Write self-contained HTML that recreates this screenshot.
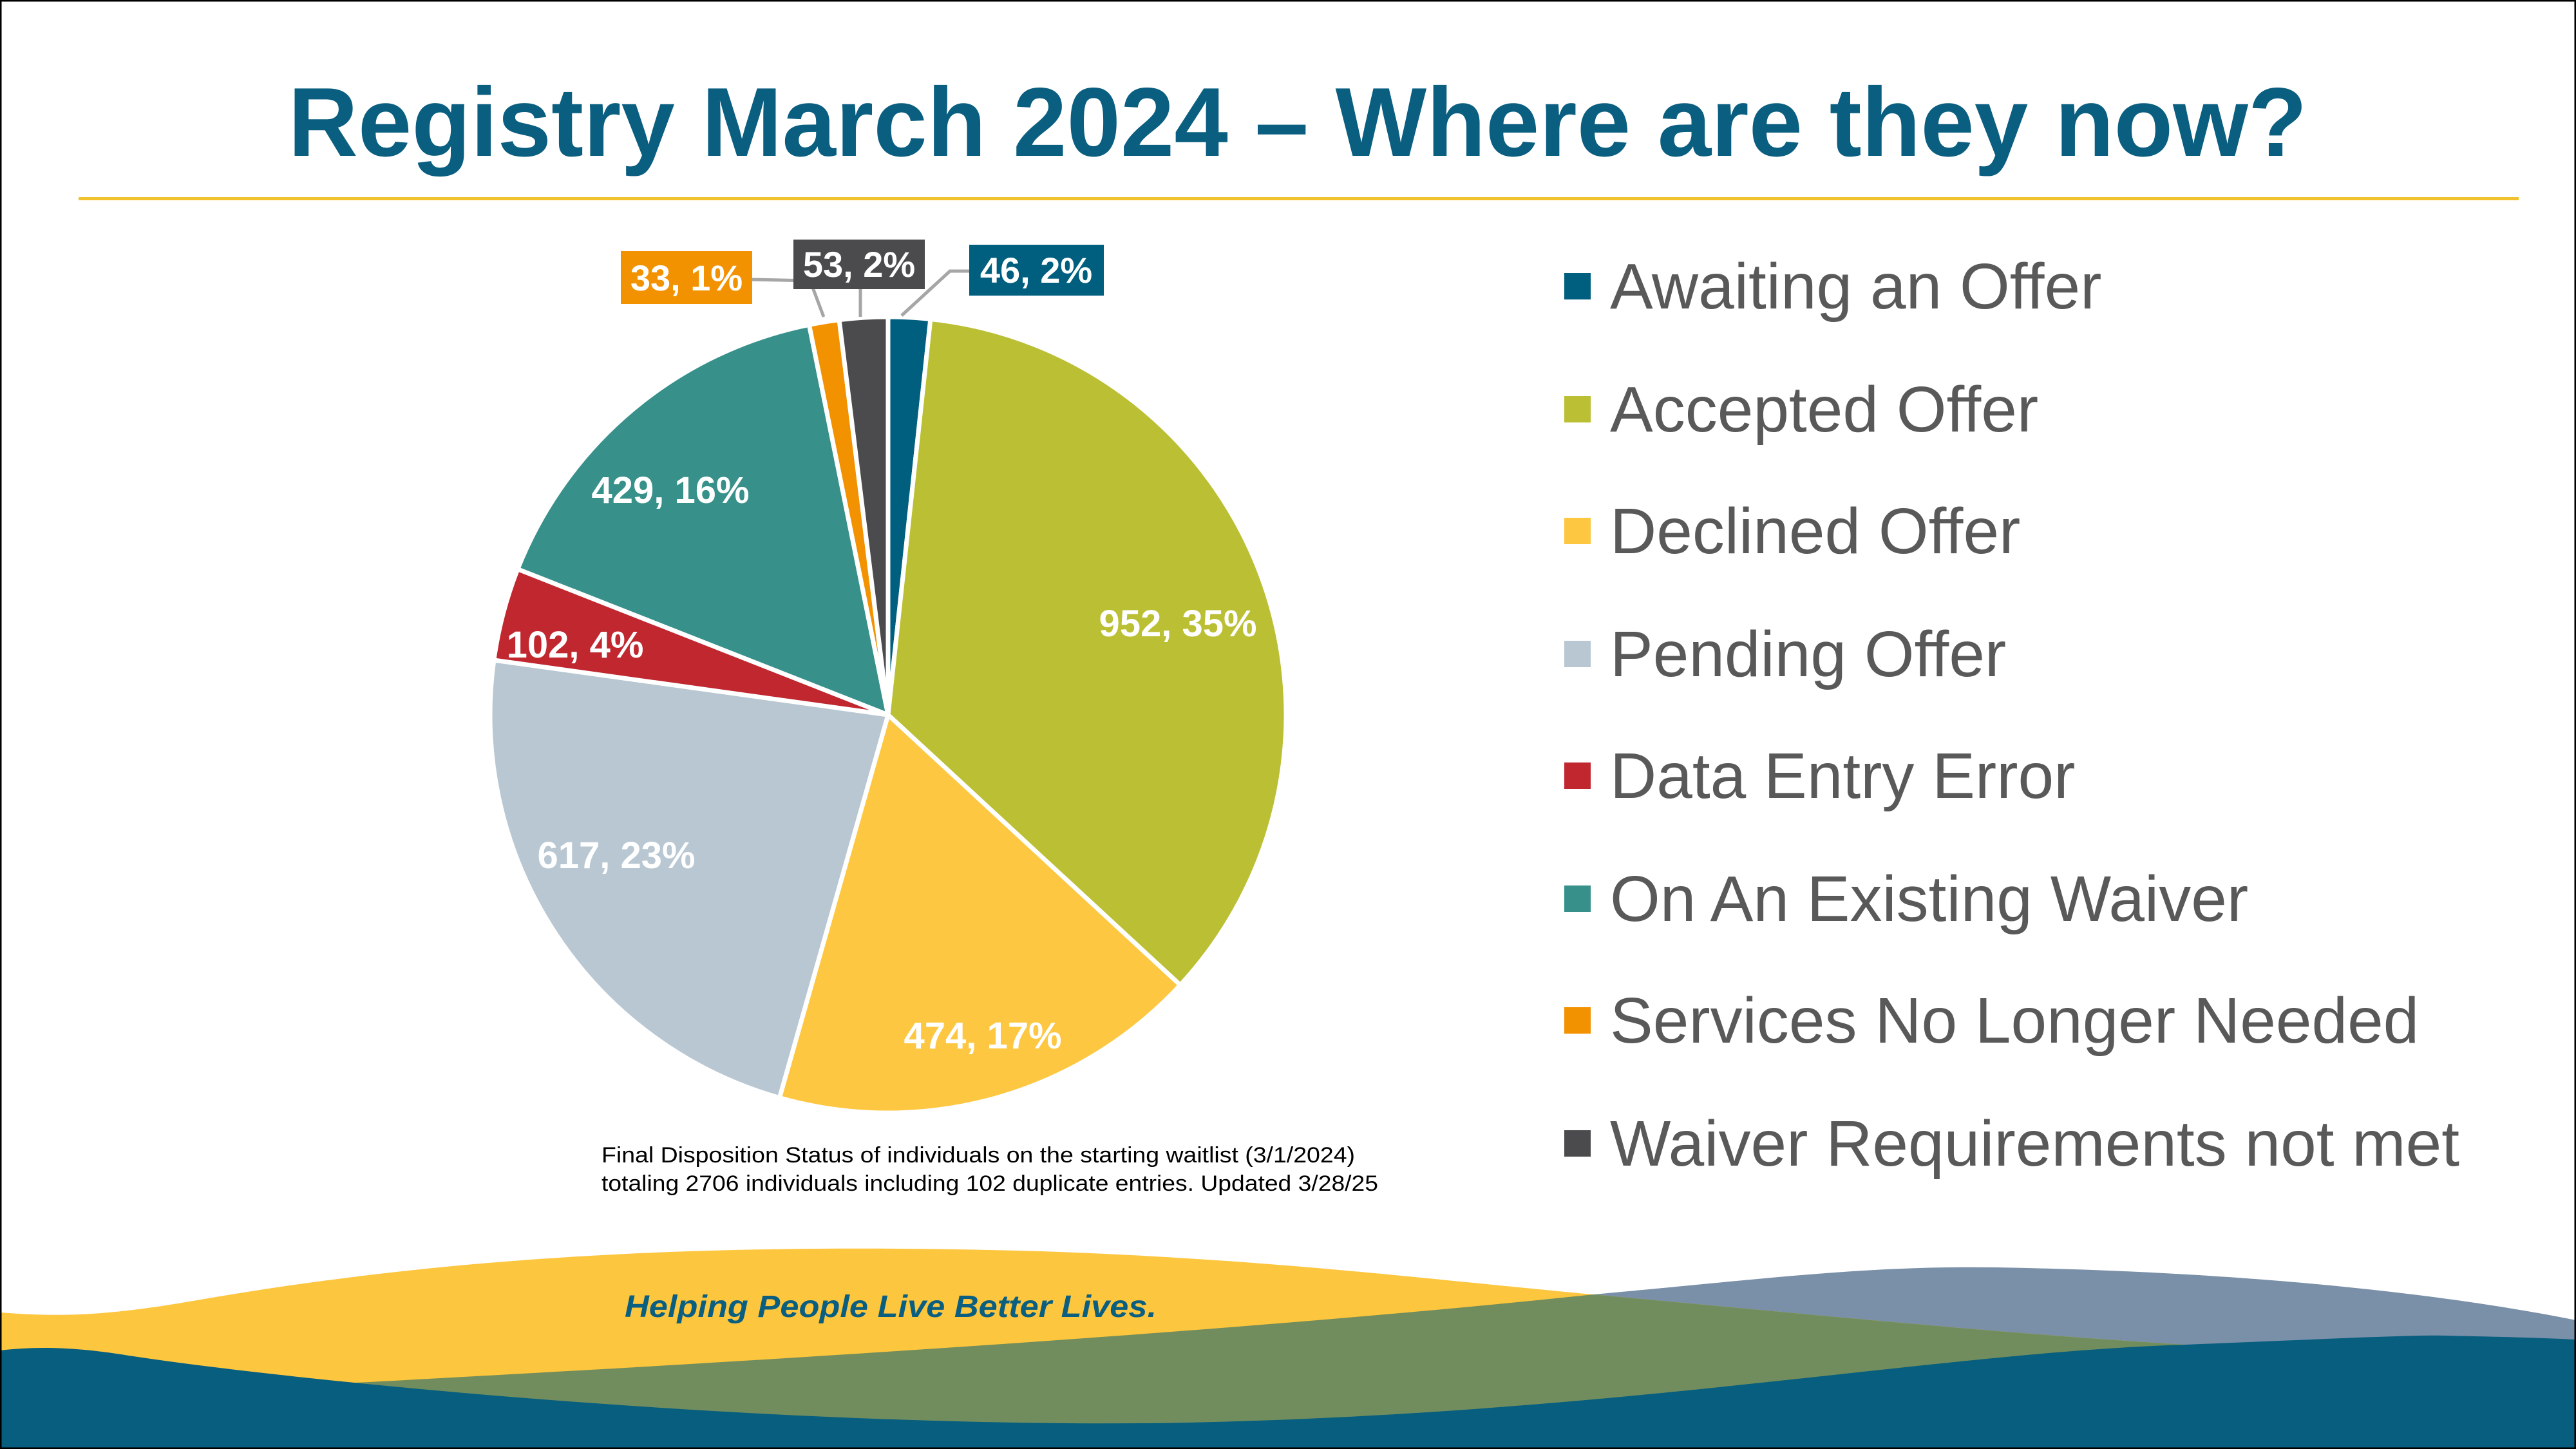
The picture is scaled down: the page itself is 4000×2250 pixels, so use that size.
<!DOCTYPE html>
<html><head><meta charset="utf-8"><style>
html,body{margin:0;padding:0;background:#fff;}
svg{display:block;font-family:"Liberation Sans",Arial,sans-serif;}
</style></head><body>
<svg width="4000" height="2250" viewBox="0 0 4000 2250" xmlns="http://www.w3.org/2000/svg">
<rect x="0" y="0" width="4000" height="2250" fill="#fff"/>
<text x="2015" y="242" text-anchor="middle" font-size="152" font-weight="bold" fill="#0A5E80" textLength="3135" lengthAdjust="spacingAndGlyphs">Registry March 2024 – Where are they now?</text>
<rect x="122" y="306" width="3789" height="5" fill="#F2C12E"/>
<g stroke="#fff" stroke-width="7" stroke-linejoin="round">
<path d="M1379,1110 L1379,492 A618,618 0 0 1 1444.9,495.5 Z" fill="#005F7F"/>
<path d="M1379,1110 L1444.9,495.5 A618,618 0 0 1 1832.7,1529.6 Z" fill="#BBBF34"/>
<path d="M1379,1110 L1832.7,1529.6 A618,618 0 0 1 1210.4,1704.6 Z" fill="#FDC742"/>
<path d="M1379,1110 L1210.4,1704.6 A618,618 0 0 1 766.9,1025.0 Z" fill="#B8C7D2"/>
<path d="M1379,1110 L766.9,1025.0 A618,618 0 0 1 803.9,883.7 Z" fill="#C0272F"/>
<path d="M1379,1110 L803.9,883.7 A618,618 0 0 1 1256.4,504.3 Z" fill="#37908A"/>
<path d="M1379,1110 L1256.4,504.3 A618,618 0 0 1 1303.1,496.7 Z" fill="#F39200"/>
<path d="M1379,1110 L1303.1,496.7 A618,618 0 0 1 1379,492 Z" fill="#4B4B4D"/>
</g>
<g font-size="58" font-weight="bold" fill="#fff" text-anchor="middle">
<text x="1829" y="988">952, 35%</text>
<text x="1526" y="1628">474, 17%</text>
<text x="957" y="1348">617, 23%</text>
<text x="893" y="1021">102, 4%</text>
<text x="1041" y="781">429, 16%</text>
</g>
<g stroke="#A6A6A6" stroke-width="5" fill="none">
<polyline points="1168,434 1258,436 1279,492"/>
<polyline points="1336,449 1336,492"/>
<polyline points="1505,421 1475,421 1400,490"/>
</g>
<rect x="964" y="390" width="204" height="82" fill="#F39200"/>
<rect x="1232" y="372" width="204" height="77" fill="#4B4B4D"/>
<rect x="1505" y="380" width="209" height="79" fill="#005F7F"/>
<g font-size="56" font-weight="bold" fill="#fff" text-anchor="middle">
<text x="1066" y="451">33, 1%</text>
<text x="1334" y="430">53, 2%</text>
<text x="1609" y="439">46, 2%</text>
</g>
<g font-size="100" fill="#595959">
<rect x="2429" y="424" width="41" height="41" fill="#005F7F"/><text x="2500" y="479">Awaiting an Offer</text>
<rect x="2429" y="615" width="41" height="41" fill="#BBBF34"/><text x="2500" y="670">Accepted Offer</text>
<rect x="2429" y="804" width="41" height="41" fill="#FDC742"/><text x="2500" y="859">Declined Offer</text>
<rect x="2429" y="995" width="41" height="41" fill="#B8C7D2"/><text x="2500" y="1050">Pending Offer</text>
<rect x="2429" y="1184" width="41" height="41" fill="#C0272F"/><text x="2500" y="1239">Data Entry Error</text>
<rect x="2429" y="1375" width="41" height="41" fill="#37908A"/><text x="2500" y="1430">On An Existing Waiver</text>
<rect x="2429" y="1564" width="41" height="41" fill="#F39200"/><text x="2500" y="1619">Services No Longer Needed</text>
<rect x="2429" y="1755" width="41" height="41" fill="#4B4B4D"/><text x="2500" y="1810">Waiver Requirements not met</text>
</g>
<g font-size="34" fill="#000">
<text x="934" y="1805" textLength="1170" lengthAdjust="spacingAndGlyphs">Final Disposition Status of individuals on the starting waitlist (3/1/2024)</text>
<text x="934" y="1849" textLength="1206" lengthAdjust="spacingAndGlyphs">totaling 2706 individuals including 102 duplicate entries. Updated 3/28/25</text>
</g>
<defs>
<clipPath id="yc"><path d="M0,2038 C80,2044 150,2046 300,2020 C700,1950 1100,1930 1582,1942 C1950,1952 2250,1990 2474,2010 C2800,2040 3100,2070 3393,2088 C3700,2110 3900,2140 4000,2160 L4000,2250 L0,2250 Z"/></clipPath>
</defs>
<path d="M300,2160 C1300,2110 2000,2060 2474,2010 C2750,1985 2900,1965 3100,1968 C3500,1975 3800,2010 4000,2050 L4000,2250 L300,2250 Z" fill="#7A90A8"/>
<path d="M0,2038 C80,2044 150,2046 300,2020 C700,1950 1100,1930 1582,1942 C1950,1952 2250,1990 2474,2010 C2800,2040 3100,2070 3393,2088 C3700,2110 3900,2140 4000,2160 L4000,2250 L0,2250 Z" fill="#FDC63F"/>
<path d="M300,2160 C1300,2110 2000,2060 2474,2010 C2750,1985 2900,1965 3100,1968 C3500,1975 3800,2010 4000,2050 L4000,2250 L300,2250 Z" fill="#718D5E" clip-path="url(#yc)"/>
<path d="M0,2097 C60,2090 120,2092 200,2105 C500,2150 1200,2215 1786,2210 C2500,2200 3000,2100 3393,2088 C3600,2080 3750,2072 3800,2074 C3900,2076 3960,2078 4000,2080 L4000,2250 L0,2250 Z" fill="#075E7F"/>
<text x="970" y="2045" font-size="48" font-style="italic" font-weight="bold" fill="#0A5E80" textLength="826" lengthAdjust="spacingAndGlyphs">Helping People Live Better Lives.</text>
<rect x="1" y="1" width="3998" height="2248" fill="none" stroke="#000" stroke-width="3"/>
</svg>
</body></html>
